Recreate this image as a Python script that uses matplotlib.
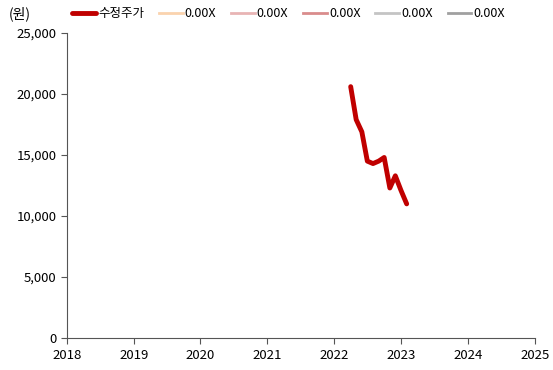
import pandas as pd
import matplotlib.pyplot as plt
import matplotlib.dates as mdates

plt.rcParams['font.family'] = ['Noto Sans CJK KR', 'DejaVu Sans']

# 월말 수정주가 (원)
months = ["2022-04", "2022-05", "2022-06", "2022-07", "2022-08", "2022-09",
          "2022-10", "2022-11", "2022-12", "2023-01", "2023-02"]
price = [20600, 17900, 16900, 14500, 14300, 14500, 14800, 12300, 13300, 12100, 11000]

band_labels = ["0.00X", "0.00X", "0.00X", "0.00X", "0.00X"]
band_colors = ["#FAD3AE", "#E8B4B4", "#D98C8C", "#C4C4C4", "#A0A0A0"]

dates = pd.to_datetime(months)

fig = plt.figure(figsize=(5.53, 3.70), dpi=100)
ax = fig.add_axes([0.121, 0.086, 0.846, 0.825])

ax.plot(dates, price, color="#C00000", lw=3.5, label="수정주가", solid_capstyle="round")
for lab, col in zip(band_labels, band_colors):
    ax.plot([], [], color=col, lw=2, label=lab)

ax.set_xlim(pd.Timestamp("2018-01-01"), pd.Timestamp("2025-01-01"))
ax.set_ylim(0, 25000)
ax.set_yticks(range(0, 25001, 5000))
ax.yaxis.set_major_formatter(plt.FuncFormatter(lambda v, p: f"{int(v):,}"))
ax.xaxis.set_major_locator(mdates.YearLocator())
ax.xaxis.set_major_formatter(mdates.DateFormatter("%Y"))

for s in ["top", "right"]:
    ax.spines[s].set_visible(False)
for s in ["left", "bottom"]:
    ax.spines[s].set_color("#555555")
ax.tick_params(axis="both", labelsize=9.5, color="#555555", length=4, direction="out")
ax.tick_params(axis="x", pad=4)

fig.text(0.015, 0.963, "(원)", fontsize=10, va="center")
fig.legend(loc="center left", bbox_to_anchor=(0.122, 0.963), ncol=6, frameon=False,
           fontsize=9, handlelength=1.9, handletextpad=0.15, columnspacing=1.2,
           borderaxespad=0)

fig.savefig("out.png", dpi=100)
